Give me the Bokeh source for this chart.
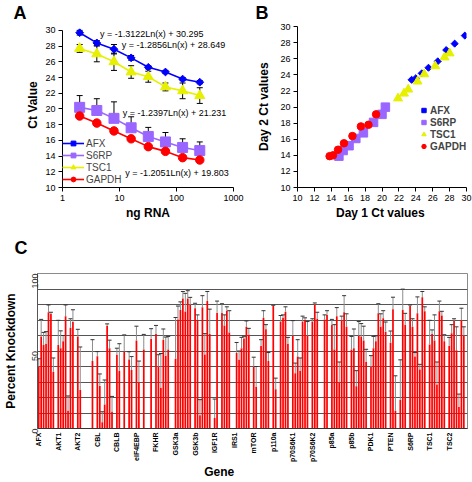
import math
from bokeh.plotting import figure
from bokeh.models import (ColumnDataSource, FixedTicker, Label, Legend, LegendItem,
                          NumeralTickFormatter, Whisker, TeeHead, CustomJSTickFormatter)
from bokeh.layouts import column, row
from bokeh.embed import file_html
from bokeh.resources import INLINE

FONT = "Liberation Sans"
BLUE, PURPLE, YELLOW, RED = "#0000FF", "#9966FF", "#E6F000", "#FF0000"

# ---------------- Panel A : standard curves ----------------
ng_rna = [2, 4, 8, 16, 32, 64, 128, 256]
afx_ct = [29.7, 28.4, 27.6, 26.5, 25.3, 24.7, 23.8, 23.4]
s6rp_ct = [20.2, 19.8, 18.8, 17.6, 16.5, 15.8, 15.1, 14.7]
tsc1_ct = [27.7, 27.0, 26.0, 24.7, 24.1, 22.8, 22.3, 21.7]
gapdh_ct = [19.1, 18.2, 17.2, 16.2, 15.2, 14.6, 13.8, 13.5]
afx_err = [0.3, 0.3, 0.6, 0.3, 0.2, 0.2, 0.2, 0.2]
s6rp_err = [1.5, 1.5, 2.1, 1.4, 1.15, 1.2, 1.1, 1.1]
tsc1_err = [0.5, 1.0, 1.1, 0.8, 0.7, 0.5, 1.0, 1.0]
eq_texts = ["y = -1.3122Ln(x) + 30.295", "y = -1.2856Ln(x) + 28.649",
            "y = -1.2397Ln(x) + 21.231", "y = -1.2051Ln(x) + 19.803"]
series_names = ["AFX", "S6RP", "TSC1", "GAPDH"]

# ---------------- Panel B : day 1 vs day 2 ----------------
afx_d1 = [23.5, 24.0, 24.7, 25.5, 26.6, 27.6, 28.6, 29.8]
afx_d2 = [23.4, 23.6, 24.2, 24.9, 25.7, 27.1, 27.9, 28.9]
s6rp_d1 = [14.9, 15.4, 16.1, 16.9, 17.8, 19.0, 20.0, 20.4]
s6rp_d2 = [13.9, 14.6, 15.2, 16.1, 16.8, 18.1, 19.1, 20.0]
tsc1_d1 = [21.9, 22.6, 23.1, 24.2, 25.0, 26.3, 27.4, 28.0]
tsc1_d2 = [21.1, 21.7, 22.2, 23.2, 24.1, 25.1, 26.2, 26.7]
gapdh_d1 = [13.8, 14.2, 14.8, 15.5, 16.5, 17.5, 18.4, 19.3]
gapdh_d2 = [13.9, 14.0, 14.7, 15.5, 16.4, 17.6, 17.8, 19.1]

# ---------------- Panel C : knockdown per siRNA ----------------
genes = ["AFX", "AKT1", "AKT2", "CBL", "CBLB", "eIF4EBP", "FKHR", "GSK3a", "GSK3b",
         "IGF1R", "IRS1", "mTOR", "p110a", "p70S6K1", "p70S6K2", "p85a", "p85b",
         "PDK1", "PTEN", "S6RP", "TSC1", "TSC2"]
N = None
knockdown = [
    40, 59.4, 53.8, 54.7, 75, 74, 36.6, N,        # AFX
    53.8, 51.8, 56.3, 72.5, 11.4, 65, 68.7, N,    # AKT1
    59.4, 24.8, N, N, N, N, 43.5, N,              # AKT2
    46.6, 27.5, 4, 15.5, 66.3, 51.7, 10.8, N,     # CBL
    47.6, 37.3, N, 49.7, N, 44.5, 37.7, N,        # CBLB
    56.7, 29.8, N, 51, N, N, 57.8, N,             # eIF4EBP
    61, 39.8, 26.3, 57.3, 47, 51, N, N,           # FKHR
    45, 70.4, 76.5, 83.9, 75.5, 83.9, 79.7, N,    # GSK3a
    77.6, 70.1, 8.5, 78.2, 47.8, 82.2, 61, N,     # GSK3b
    6.8, 74.5, N, 74.5, 66.5, 76, 62, N,          # IGF1R
    N, 48.7, 44.3, 51.8, 58, 65.6, 60.5, N,       # IRS1
    39.8, 27, N, 53.2, 71.4, 64, 43.5, N,         # mTOR
    79, 25.3, N, 69, 71.4, 75.4, 54.7, N,         # p110a
    60, 35.6, 46.4, 37.3, 69, 70.2, 60, N,        # p70S6K1
    69, 80, 70.8, N, N, 70.4, 73.3, N,            # p70S6K2
    66.7, 51, 72.5, 29.8, 69.8, 75, 65.6, N,      # p85a
    51, 51.8, 27.3, 59.8, 59.4, 56.7, 42.9, N,    # p85b
    39.8, 51.8, 56.3, 74.3, 65.6, 71.2, 62.5, N,  # PDK1
    55.3, 77, 11.4, N, 18.6, 76.4, 66.7, N,       # PTEN
    79, 65.6, 46.4, 74.3, 38, 84.7, 75.6, N,      # S6RP
    54.2, 60.9, 56.7, 28.4, 75.6, 72.9, 56.3, N,  # TSC1
    53.2, 61.5, 69.4, 50.5, 13.9, 69.8, 60, N,    # TSC2
]
knockdown_err = [
    5, 11, 8.2, 7.8, 4.7, 1, 8.9, N,
    16, 11.2, 3.7, 7.2, 9.6, 5.8, 7.9, N,
    4.6, 27.8, N, N, N, N, 13.8, N,
    3, 7.7, 6.8, 15.8, 1.2, 5.3, 9.9, N,
    4.2, 17.4, N, 10.7, N, 5, 8.7, N,
    9.3, 13.7, N, 9.7, N, N, 6.6, N,
    5.5, 7.8, 22.1, 6.9, 12, 8.4, N, N,
    26.6, 8.6, 5.2, 4.5, 11.7, 5, 4.9, N,
    3.2, 3.2, 10.1, 7.5, 13.4, 6.2, 16, N,
    12.2, 7.7, N, 6, 6.8, 2.5, 14, N,
    N, 6.8, 5.7, 7, 1.5, 3.8, 4.1, N,
    6.2, 13, N, 4.1, 4.6, 3, 5.5, N,
    0.5, 7.2, N, 3.9, 1.9, 3.1, 4.1, N,
    9.6, 6.6, 10.9, 8.2, 3.5, 1.2, 9, N,
    1.8, 1, 4.2, N, N, 2.9, 2.7, N,
    3.7, 16, 5.5, 13.1, 2.7, 10.7, 8.4, N,
    8.4, 12.4, 10, 9.2, 8.3, 9.3, 8.2, N,
    7.2, 7.6, 3.5, 6.2, 8.4, 4.8, 6.2, N,
    7.6, 7.7, 22.6, N, 25.7, 13.5, 7.6, N,
    0.7, 5.2, 2.6, 10.6, 3.4, 3.7, 2.9, N,
    15.6, 2.7, 16.6, 14.5, 6.6, 2.7, 4.2, N,
    5.6, 5.5, 1.4, 15.1, 8.3, 7.8, 5.6, N,
]
SLOTS_PER_GENE = 8


def style_axes(p, size="9px"):
    for ax in (p.xaxis, p.yaxis):
        ax.axis_line_color = "black"
        ax.major_tick_line_color = "black"
        ax.major_tick_out = 4
        ax.major_tick_in = 0
        ax.minor_tick_line_color = None
        ax.major_label_text_font = FONT
        ax.major_label_text_font_size = size
        ax.major_label_text_color = "black"
        ax.major_label_standoff = 3
        ax.axis_label_text_font = FONT
        ax.axis_label_text_font_style = "bold"
        ax.axis_label_text_font_size = "12px"
        ax.axis_label_text_color = "black"


def panel_letter(p, text, offset, standoff, valign="bottom"):
    p.title.text = text
    p.title.align = "left"
    p.title.vertical_align = valign
    p.title.offset = offset
    p.title.standoff = standoff
    p.title.text_font = FONT
    p.title.text_font_style = "bold"
    p.title.text_font_size = "18px"
    p.title.text_color = "black"


ROW_H = 222

# ===== Panel A =====
pA = figure(width=250, height=ROW_H, x_axis_type="log", x_range=(1, 1000), y_range=(10, 31),
            output_backend="svg", toolbar_location=None,
            min_border_left=62, min_border_right=17, min_border_top=22,
            min_border_bottom=ROW_H - 187)
pA.outline_line_color = None
pA.grid.visible = False
style_axes(pA)
pA.xaxis.ticker = FixedTicker(ticks=[1, 10, 100, 1000])
pA.xaxis.formatter = NumeralTickFormatter(format="0")
pA.yaxis.ticker = FixedTicker(ticks=list(range(10, 31, 2)))
pA.yaxis.bounds = (10, 30)
pA.xaxis.axis_label = "ng RNA"
pA.yaxis.axis_label = "Ct Value"
pA.xaxis.axis_label_standoff = 2
pA.yaxis.axis_label_standoff = 2

for vals, errs, both in ((afx_ct, afx_err, True), (s6rp_ct, s6rp_err, False),
                         (tsc1_ct, tsc1_err, True)):
    src = ColumnDataSource(dict(x=ng_rna,
                                up=[v + e for v, e in zip(vals, errs)],
                                lo=[v - e if both else v for v, e in zip(vals, errs)]))
    pA.add_layout(Whisker(source=src, base="x", upper="up", lower="lo", dimension="height",
                          line_color="black", line_width=1, level="underlay",
                          upper_head=TeeHead(size=6, line_color="black", line_width=1),
                          lower_head=TeeHead(size=6, line_color="black", line_width=1) if both else None))

specsA = [(afx_ct, BLUE, "square", 5.5, math.pi / 4),
          (s6rp_ct, PURPLE, "square", 10, 0),
          (tsc1_ct, YELLOW, "triangle", 10, 0),
          (gapdh_ct, RED, "circle", 8.5, 0)]
itemsA = []
for name, (vals, col, mk, sz, ang) in zip(series_names, specsA):
    ln = pA.line(ng_rna, vals, line_color=col, line_width=1.6)
    sc = pA.scatter(ng_rna, vals, marker=mk, size=sz, angle=ang, fill_color=col, line_color=col)
    itemsA.append(LegendItem(label=name, renderers=[ln, sc]))
legA = Legend(items=itemsA, location=(0, 2), padding=0, margin=0, spacing=0,
              glyph_width=22, glyph_height=12, label_height=12, label_standoff=2,
              label_text_font=FONT, label_text_font_size="10px",
              border_line_color=None, background_fill_alpha=0)
pA.add_layout(legA)

eq_x = [36.7, 88.6, 92.2, 102]
eq_y = [29.55, 28.16, 19.47, 11.83]
for t, xx, yy in zip(eq_texts, eq_x, eq_y):
    pA.add_layout(Label(x=xx, y=yy, text=t, text_font=FONT, text_font_size="9px",
                        text_align="center", text_baseline="alphabetic", text_color="black"))
panel_letter(pA, "A", -49, 0)

# ===== Panel B =====
pB = figure(width=222, height=ROW_H, x_range=(10, 30), y_range=(10, 30.53),
            output_backend="svg", toolbar_location=None,
            min_border_left=47, min_border_right=6, min_border_top=22,
            min_border_bottom=ROW_H - 187)
pB.outline_line_color = None
pB.grid.visible = False
style_axes(pB)
pB.xaxis.ticker = FixedTicker(ticks=list(range(10, 31, 2)))
pB.yaxis.ticker = FixedTicker(ticks=list(range(10, 31, 2)))
pB.yaxis.bounds = (10, 30)
pB.xaxis.axis_label = "Day 1  Ct values"
pB.yaxis.axis_label = "Day 2  Ct values"
pB.xaxis.axis_label_standoff = 2
pB.yaxis.axis_label_standoff = 6

specsB = [(afx_d1, afx_d2, BLUE, "square", 5, math.pi / 4),
          (s6rp_d1, s6rp_d2, PURPLE, "square", 8.5, 0),
          (tsc1_d1, tsc1_d2, YELLOW, "triangle", 9, 0),
          (gapdh_d1, gapdh_d2, RED, "circle", 7.5, 0)]
itemsB = []
for name, (xs_, ys_, col, mk, sz, ang) in zip(series_names, specsB):
    sc = pB.scatter(xs_, ys_, marker=mk, size=sz, angle=ang, fill_color=col, line_color=col)
    itemsB.append(LegendItem(label=name, renderers=[sc]))
legB = Legend(items=itemsB, location=(121, 35), padding=0, margin=0, spacing=0,
              glyph_width=11, glyph_height=12, label_height=12, label_standoff=1,
              label_text_font=FONT, label_text_font_size="10px", label_text_font_style="bold",
              border_line_color=None, background_fill_alpha=0)
pB.add_layout(legB)
panel_letter(pB, "B", -42, 0)

# ===== Panel C =====
xs, tops, caps = [], [], []
for i, (v, e) in enumerate(zip(knockdown, knockdown_err)):
    if v is None:
        continue
    xs.append(i)
    tops.append(v)
    caps.append(v + e)
srcC = ColumnDataSource(dict(x=xs, top=tops, cap=caps))

C_H = 482 - ROW_H
C_TOP = 273 - ROW_H
nslots = len(genes) * SLOTS_PER_GENE
pC = figure(width=472, height=C_H, x_range=(-0.5, nslots - 0.5), y_range=(0, 100),
            output_backend="svg", toolbar_location=None,
            min_border_left=36, min_border_right=5, min_border_top=C_TOP,
            min_border_bottom=C_H - C_TOP - 161)
pC.outline_line_color = "#8a8a8a"
pC.xgrid.visible = False
pC.ygrid.ticker = FixedTicker(ticks=list(range(10, 101, 10)))
pC.ygrid.grid_line_color = "#555555"
pC.ygrid.grid_line_width = 1
pC.vbar(x="x", top="top", width=0.7, fill_color=RED, line_color=None, source=srcC)
pC.segment(x0="x", y0="top", x1="x", y1="cap", line_color="#8c8c8c", line_width=1, source=srcC)
pC.scatter(x="x", y="cap", marker="dash", size=4, line_color="#333333", line_width=1, source=srcC)

pC.xaxis.ticker = FixedTicker(ticks=[i * SLOTS_PER_GENE for i in range(len(genes))])
pC.xaxis.formatter = CustomJSTickFormatter(
    args=dict(names=genes, per=SLOTS_PER_GENE),
    code="const i = Math.round(tick / per); return (i >= 0 && i < names.length) ? names[i] : '';")
pC.xaxis.major_label_orientation = math.pi / 2
pC.xaxis.major_label_text_font = FONT
pC.xaxis.major_label_text_font_size = "7px"
pC.xaxis.major_label_text_font_style = "bold"
pC.xaxis.major_label_text_color = "black"
pC.xaxis.major_tick_line_color = None
pC.xaxis.minor_tick_line_color = None
pC.xaxis.major_tick_out = 0
pC.xaxis.major_label_standoff = 4
pC.xaxis.axis_line_color = "#333333"
pC.xaxis.axis_label = "Gene" + "\u00a0" * 20
pC.xaxis.axis_label_text_font = FONT
pC.xaxis.axis_label_text_font_style = "bold"
pC.xaxis.axis_label_text_font_size = "12px"
pC.xaxis.axis_label_text_color = "black"
pC.xaxis.axis_label_standoff = 0

pC.yaxis.ticker = FixedTicker(ticks=[0, 50, 100])
pC.yaxis.major_label_orientation = math.pi / 2
pC.yaxis.major_label_text_font = FONT
pC.yaxis.major_label_text_font_size = "9px"
pC.yaxis.major_label_text_color = "#333333"
pC.yaxis.major_tick_line_color = None
pC.yaxis.minor_tick_line_color = None
pC.yaxis.major_tick_out = 0
pC.yaxis.major_label_standoff = 3
pC.yaxis.axis_line_color = "#555555"
pC.yaxis.axis_label = "Percent Knockdown"
pC.yaxis.axis_label_text_font = FONT
pC.yaxis.axis_label_text_font_style = "bold"
pC.yaxis.axis_label_text_font_size = "12px"
pC.yaxis.axis_label_text_color = "black"
pC.yaxis.axis_label_standoff = 8

panel_letter(pC, "C", -23, 28, valign="top")

layout = column(row(pA, pB), pC)
open("out.html", "w").write(file_html(layout, INLINE))
